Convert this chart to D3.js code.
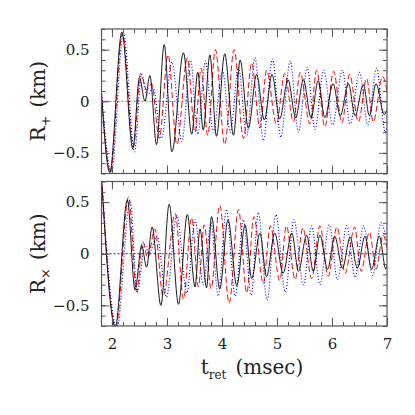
<!DOCTYPE html>
<html>
<head>
<meta charset="utf-8">
<script src="https://cdn.jsdelivr.net/npm/d3@7"></script>
<style>
  body { margin: 0; background: #fff; }
  text { font-family: "DejaVu Serif", serif; fill: #222; }
</style>
</head>
<body>
<div id="chart"></div>
<script>
// waveform extrema: [t_ret (msec), R (km)]
const plusBlack = [[1.81, 0.06], [1.96, -0.69], [2.18, 0.67], [2.38, -0.46], [2.50, 0.23], [2.60, 0.00], [2.69, 0.25], [2.81, -0.42], [2.95, 0.55], [3.09, -0.49], [3.30, 0.47], [3.45, -0.32], [3.56, 0.28], [3.66, -0.28], [3.78, 0.45], [3.90, -0.34], [4.05, 0.46], [4.21, -0.33], [4.33, 0.40], [4.48, -0.26], [4.63, 0.26], [4.77, -0.18], [4.91, 0.26], [5.05, -0.17], [5.20, 0.21], [5.34, -0.16], [5.48, 0.21], [5.62, -0.16], [5.75, 0.20], [5.87, -0.16], [6.02, 0.17], [6.15, -0.14], [6.30, 0.17], [6.42, -0.14], [6.57, 0.16], [6.68, -0.14], [6.80, 0.17], [6.95, -0.13], [7.00, -0.08]];
const plusRed = [[1.81, 0.08], [1.97, -0.69], [2.19, 0.66], [2.39, -0.44], [2.52, 0.27], [2.63, 0.11], [2.72, 0.17], [2.86, -0.36], [3.02, 0.45], [3.18, -0.42], [3.37, 0.42], [3.51, -0.30], [3.62, 0.32], [3.74, -0.33], [3.88, 0.50], [4.05, -0.42], [4.22, 0.50], [4.39, -0.36], [4.54, 0.37], [4.69, -0.26], [4.81, 0.30], [4.99, -0.22], [5.14, 0.27], [5.30, -0.20], [5.42, 0.28], [5.60, -0.22], [5.72, 0.30], [5.87, -0.25], [6.03, 0.29], [6.18, -0.21], [6.32, 0.26], [6.48, -0.20], [6.63, 0.22], [6.75, -0.20], [6.92, 0.24], [7.00, 0.10]];
const plusBlue = [[1.81, 0.10], [1.99, -0.69], [2.21, 0.66], [2.41, -0.49], [2.54, 0.26], [2.64, 0.06], [2.75, 0.13], [2.90, -0.36], [3.09, 0.38], [3.27, -0.39], [3.43, 0.40], [3.56, -0.32], [3.70, 0.39], [3.84, -0.30], [4.01, 0.30], [4.15, -0.30], [4.30, 0.33], [4.45, -0.33], [4.60, 0.42], [4.75, -0.38], [4.92, 0.41], [5.07, -0.35], [5.24, 0.39], [5.39, -0.30], [5.55, 0.33], [5.69, -0.27], [5.85, 0.30], [6.01, -0.23], [6.19, 0.30], [6.33, -0.22], [6.50, 0.28], [6.65, -0.23], [6.81, 0.32], [6.97, -0.30], [7.00, -0.25]];

const crossBlack = [[1.81, 0.74], [2.06, -0.71], [2.28, 0.52], [2.42, -0.35], [2.54, 0.08], [2.63, -0.13], [2.73, 0.26], [2.89, -0.50], [3.04, 0.48], [3.21, -0.49], [3.37, 0.38], [3.51, -0.32], [3.60, 0.24], [3.72, -0.33], [3.81, 0.36], [3.96, -0.34], [4.11, 0.33], [4.27, -0.31], [4.42, 0.28], [4.54, -0.24], [4.69, 0.20], [4.81, -0.22], [4.96, 0.20], [5.11, -0.19], [5.27, 0.20], [5.39, -0.17], [5.54, 0.18], [5.66, -0.17], [5.78, 0.18], [5.92, -0.15], [6.05, 0.17], [6.19, -0.14], [6.33, 0.16], [6.46, -0.14], [6.60, 0.17], [6.72, -0.15], [6.86, 0.17], [6.98, -0.15], [7.00, -0.12]];
const crossRed = [[1.81, 0.75], [2.07, -0.72], [2.30, 0.55], [2.45, -0.37], [2.56, 0.12], [2.65, -0.04], [2.78, 0.24], [2.93, -0.41], [3.15, 0.39], [3.30, -0.44], [3.45, 0.35], [3.57, -0.32], [3.68, 0.28], [3.80, -0.34], [3.96, 0.47], [4.13, -0.48], [4.30, 0.43], [4.45, -0.38], [4.58, 0.36], [4.75, -0.29], [4.88, 0.27], [5.05, -0.26], [5.17, 0.27], [5.33, -0.25], [5.47, 0.25], [5.63, -0.24], [5.78, 0.27], [5.93, -0.22], [6.09, 0.26], [6.24, -0.19], [6.41, 0.26], [6.53, -0.17], [6.68, 0.21], [6.80, -0.15], [6.93, 0.18], [7.00, 0.05]];
const crossBlue = [[1.81, 0.76], [2.09, -0.72], [2.33, 0.52], [2.46, -0.37], [2.60, 0.09], [2.67, 0.00], [2.82, 0.17], [2.99, -0.42], [3.18, 0.37], [3.36, -0.38], [3.51, 0.33], [3.66, -0.30], [3.80, 0.30], [3.93, -0.41], [4.08, 0.43], [4.24, -0.41], [4.39, 0.33], [4.53, -0.40], [4.66, 0.40], [4.82, -0.45], [4.98, 0.38], [5.15, -0.37], [5.31, 0.33], [5.48, -0.30], [5.63, 0.27], [5.78, -0.30], [5.95, 0.28], [6.10, -0.25], [6.27, 0.27], [6.42, -0.23], [6.57, 0.27], [6.74, -0.21], [6.89, 0.30], [7.00, 0.10]];

const xTicks = [2, 3, 4, 5, 6, 7];
const yTicks = [-0.5, 0, 0.5];

const width = 415, height = 415;
const left = 101.5, right = 387;
const panels = [
  { top: 29, bottom: 173.5, sub: "+", series: [plusRed, plusBlue, plusBlack], zero: "#777" },
  { top: 181.5, bottom: 326, sub: "×", series: [crossRed, crossBlue, crossBlack], zero: "#333" }
];
const styles = [
  { color: "#f00", dash: "6,3", w: 1 },
  { color: "#00f", dash: "1,2", w: 1.1 },
  { color: "#000", dash: null, w: 0.9 }
];
const frameColor = "#555";

const svg = d3.select("#chart").append("svg")
  .attr("width", width)
  .attr("height", height);

const xScale = d3.scaleLinear().domain([1.81, 7]).range([left, right]);

const fmtY = d => d === 0 ? "0" : d3.format(".1f")(d);

panels.forEach((p, i) => {
  const yScale = d3.scaleLinear().domain([-0.7, 0.7]).range([p.bottom, p.top]);
  const g = svg.append("g");

  g.append("clipPath").attr("id", "clip" + i)
    .append("rect")
    .attr("x", left).attr("y", p.top)
    .attr("width", right - left).attr("height", p.bottom - p.top);

  // zero line
  g.append("line")
    .attr("x1", left).attr("x2", right)
    .attr("y1", yScale(0)).attr("y2", yScale(0))
    .attr("stroke", p.zero)
    .attr("stroke-width", 1)
    .attr("stroke-dasharray", "2,2");

  const line = d3.line()
    .x(d => xScale(d[0]))
    .y(d => yScale(d[1]))
    .curve(d3.curveMonotoneX);

  const plot = g.append("g").attr("clip-path", `url(#clip${i})`);
  p.series.forEach((s, k) => {
    plot.append("path")
      .datum(s)
      .attr("fill", "none")
      .attr("stroke", styles[k].color)
      .attr("stroke-width", styles[k].w)
      .attr("stroke-dasharray", styles[k].dash)
      .attr("d", line);
  });

  // ticks, inward on all four sides
  const addAxis = (axis, tx, ty) => {
    const a = g.append("g")
      .attr("transform", `translate(${tx},${ty})`)
      .call(axis);
    a.select(".domain").remove();
    a.selectAll(".tick line").attr("stroke", frameColor).attr("stroke-width", 1);
    return a;
  };
  const minorX = d3.range(1.8, 7.001, 0.2).filter(v => v >= 1.81);
  const minorY = d3.range(-0.7, 0.701, 0.1);

  addAxis(d3.axisBottom(xScale).tickValues(minorX).tickSize(-4).tickFormat(""), 0, p.bottom);
  addAxis(d3.axisTop(xScale).tickValues(minorX).tickSize(-4).tickFormat(""), 0, p.top);
  const xMajB = addAxis(d3.axisBottom(xScale).tickValues(xTicks).tickSize(-8).tickPadding(12)
    .tickFormat(i === 1 ? d3.format("d") : ""), 0, p.bottom);
  addAxis(d3.axisTop(xScale).tickValues(xTicks).tickSize(-8).tickFormat(""), 0, p.top);
  xMajB.selectAll("text").attr("font-size", 15).attr("font-family", "DejaVu Serif");

  addAxis(d3.axisLeft(yScale).tickValues(minorY).tickSize(-4).tickFormat(""), left, 0);
  addAxis(d3.axisRight(yScale).tickValues(minorY).tickSize(-4).tickFormat(""), right, 0);
  const yMaj = addAxis(d3.axisLeft(yScale).tickValues(yTicks).tickSize(-8).tickPadding(12).tickFormat(fmtY), left, 0);
  addAxis(d3.axisRight(yScale).tickValues(yTicks).tickSize(-8).tickFormat(""), right, 0);
  yMaj.selectAll("text").attr("font-size", 15).attr("font-family", "DejaVu Serif");

  // frame
  g.append("rect")
    .attr("x", left).attr("y", p.top)
    .attr("width", right - left).attr("height", p.bottom - p.top)
    .attr("fill", "none")
    .attr("stroke", frameColor)
    .attr("stroke-width", 1.2);

  // y label
  const cy = (p.top + p.bottom) / 2;
  const lab = g.append("text")
    .attr("transform", `translate(45,${cy}) rotate(-90)`)
    .attr("text-anchor", "middle")
    .attr("font-size", 20);
  lab.append("tspan").text("R");
  lab.append("tspan").attr("font-size", 13).attr("dy", 5).text(p.sub);
  lab.append("tspan").attr("dy", -5).attr("dx", 8).text("(km)");
});

// x label
const xl = svg.append("text")
  .attr("x", 252).attr("y", 374)
  .attr("text-anchor", "middle")
  .attr("font-size", 20);
xl.append("tspan").text("t");
xl.append("tspan").attr("font-size", 12).attr("dy", 5).text("ret");
xl.append("tspan").attr("dy", -5).attr("dx", 9).text("(msec)");
</script>
</body>
</html>
